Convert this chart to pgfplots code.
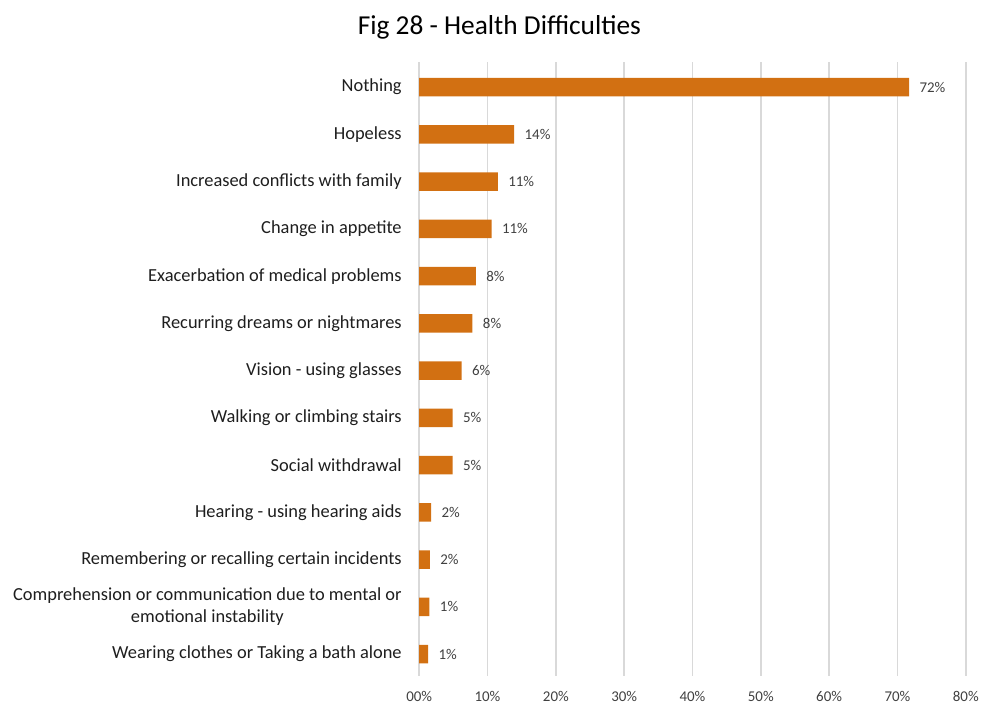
\documentclass[border=0pt]{standalone}
\usepackage{pgfplots}
\pgfplotsset{compat=1.18}
\usepackage{fontspec}
\setmainfont{Carlito}
\definecolor{barorange}{RGB}{210,112,18}
\definecolor{gridgray}{RGB}{217,217,217}
\definecolor{txt}{RGB}{30,30,30}
\definecolor{lbl}{RGB}{64,64,64}
\begin{document}
\begin{tikzpicture}[x=1bp,y=1bp]
\path (0,0) rectangle (982,704);
\node[font=\fontsize{27.5}{30}\selectfont, text=black] at (500,677) {Fig 28 - Health Difficulties};
\begin{axis}[at={(419.7bp,27.3bp)}, anchor=south west, scale only axis,
  width=547.3bp, height=615bp,
  xbar, bar width=18.5bp,
  xmin=0, xmax=80, ymin=-0.46, ymax=12.54,
  ytick={0,...,12},
  yticklabels={Wearing clothes or Taking a bath alone,
    {Comprehension or communication due to mental or\\emotional instability},
    Remembering or recalling certain incidents,
    Hearing - using hearing aids,
    Social withdrawal,
    Walking or climbing stairs,
    Vision - using glasses,
    Recurring dreams or nightmares,
    Exacerbation of medical problems,
    Change in appetite,
    Increased conflicts with family,
    Hopeless,
    Nothing},
  xtick={0,10,...,80},
  xticklabels={00\%,10\%,20\%,30\%,40\%,50\%,60\%,70\%,80\%},
  axis line style={draw=none},
  major tick length=0pt,
  xmajorgrids, grid style={gridgray, line width=1.5bp},
  yticklabel style={font=\fontsize{18.5}{22}\selectfont, text=txt, align=center, xshift=-14bp},
  xticklabel style={font=\fontsize{15}{17}\selectfont, text=lbl, yshift=-12bp},
  point meta=explicit symbolic,
  nodes near coords={\pgfplotspointmeta\%},
  nodes near coords style={font=\fontsize{15}{17}\selectfont, text=lbl, anchor=west, xshift=7bp},
]
\addplot[fill=barorange, draw=none] table[x=v, y=i, meta=l] {
i v l
12 71.7 72
11 13.9 14
10 11.5 11
9 10.6 11
8 8.3 8
7 7.8 8
6 6.2 6
5 4.9 5
4 4.9 5
3 1.75 2
2 1.55 2
1 1.5 1
0 1.3 1
};
\end{axis}
\end{tikzpicture}
\end{document}
